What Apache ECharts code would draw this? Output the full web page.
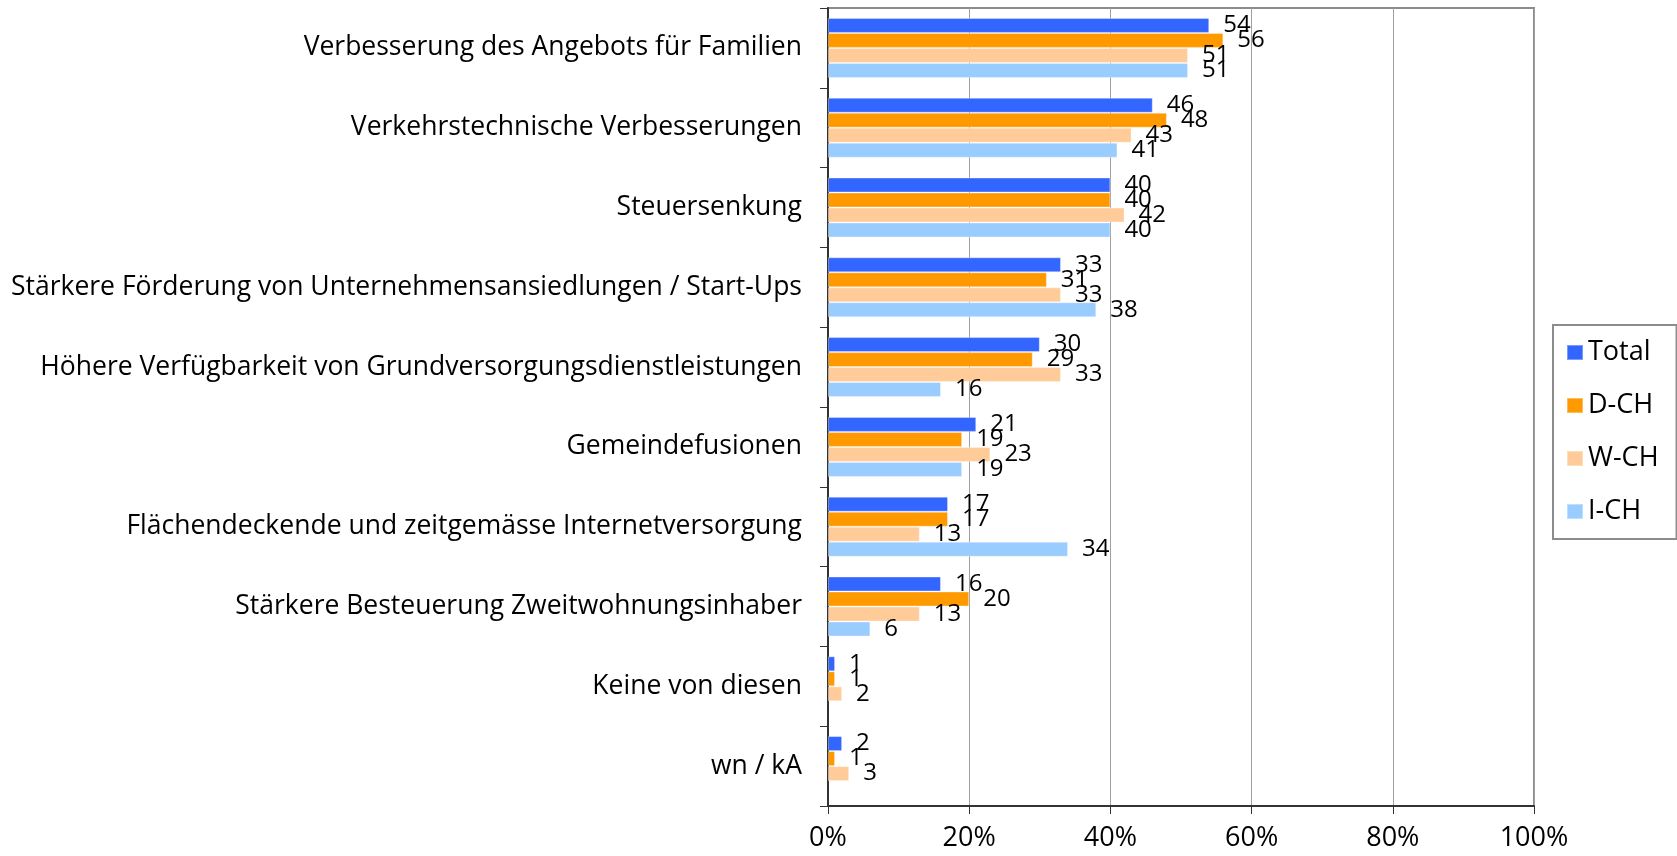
<!DOCTYPE html>
<html>
<head>
<meta charset="utf-8">
<script src="https://cdn.jsdelivr.net/npm/echarts@6/dist/echarts.min.js"></script>
<style>
  html, body { margin: 0; padding: 0; background: #fff; }
  #chart { width: 1677px; height: 856px; }
</style>
</head>
<body>
<div id="chart"></div>
<script>
// Survey: measures for regional development, share of respondents (%)
const categories = [
  'Verbesserung des Angebots für Familien',
  'Verkehrstechnische Verbesserungen',
  'Steuersenkung',
  'Stärkere Förderung von Unternehmensansiedlungen / Start-Ups',
  'Höhere Verfügbarkeit von Grundversorgungsdienstleistungen',
  'Gemeindefusionen',
  'Flächendeckende und zeitgemässe Internetversorgung',
  'Stärkere Besteuerung Zweitwohnungsinhaber',
  'Keine von diesen',
  'wn / kA'
];
const seriesNames = ['Total', 'D-CH', 'W-CH', 'I-CH'];
const total = [54, 46, 40, 33, 30, 21, 17, 16, 1, 2];
const dch   = [56, 48, 40, 31, 29, 19, 17, 20, 1, 1];
const wch   = [51, 43, 42, 33, 33, 23, 13, 13, 2, 3];
const ich   = [51, 41, 40, 38, 16, 19, 34, 6, null, null];
const xTicks = [0, 20, 40, 60, 80, 100];

const colors = ['#3366FF', '#FF9900', '#FFCC99', '#99CCFF'];
const FONT = '"Open Sans", "Noto Sans", sans-serif';

const chart = echarts.init(document.getElementById('chart'), null, { renderer: 'canvas' });

function barSeries(name, values, color) {
  return {
    name: name,
    type: 'bar',
    data: values,
    barWidth: 15,
    barGap: '0%',
    itemStyle: { color: color, borderColor: 'rgba(255,255,255,0.35)', borderWidth: 1 },
    label: {
      show: true,
      position: 'right',
      distance: 14,
      color: '#000',
      fontFamily: FONT,
      fontSize: 24,
      formatter: p => (p.value == null ? '' : String(p.value))
    },
    labelLayout: { hideOverlap: false },
    emphasis: { disabled: true },
    animation: false
  };
}

chart.setOption({
  animation: false,
  color: colors,
  textStyle: { fontFamily: FONT, color: '#000' },
  grid: {
    left: 828, top: 8, width: 706, height: 798,
    show: true, borderColor: '#8c8c8c', borderWidth: 2, backgroundColor: '#fff'
  },
  legend: {
    orient: 'vertical',
    left: 1553, top: 325,
    padding: [14, 18, 14, 13],
    itemGap: 26,
    itemWidth: 16, itemHeight: 15,
    itemTextGap: 6,
    icon: 'rect',
    backgroundColor: '#fff',
    borderColor: '#8c8c8c',
    borderWidth: 2,
    borderRadius: 0,
    textStyle: { fontFamily: FONT, fontSize: 27, color: '#000' },
    data: seriesNames
  },
  xAxis: {
    type: 'value',
    min: xTicks[0],
    max: xTicks[xTicks.length - 1],
    interval: xTicks[1] - xTicks[0],
    axisLine: { show: true, lineStyle: { color: '#333', width: 2 } },
    axisTick: { show: true, length: 8, lineStyle: { color: '#333', width: 1 } },
    axisLabel: { formatter: '{value}%', fontFamily: FONT, fontSize: 27, color: '#000', margin: 19 },
    splitLine: { show: true, lineStyle: { color: '#a0a0a0', width: 1 } }
  },
  yAxis: {
    type: 'category',
    data: categories,
    inverse: true,
    axisLine: { show: true, lineStyle: { color: '#333', width: 2 } },
    axisTick: { show: true, length: 8, alignWithLabel: false, lineStyle: { color: '#333', width: 1 } },
    axisLabel: { fontFamily: FONT, fontSize: 26.5, color: '#000', margin: 26 },
    splitLine: { show: false }
  },
  series: [
    barSeries(seriesNames[0], total, colors[0]),
    barSeries(seriesNames[1], dch, colors[1]),
    barSeries(seriesNames[2], wch, colors[2]),
    barSeries(seriesNames[3], ich, colors[3])
  ]
});
</script>
</body>
</html>
